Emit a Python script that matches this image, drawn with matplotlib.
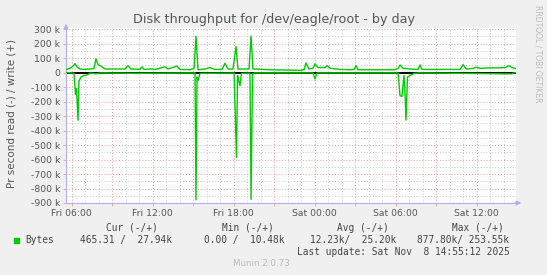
import numpy as np
import matplotlib
matplotlib.use("Agg")
import matplotlib.pyplot as plt

# hours since Fri 00:00, values in bytes/s
write_hours = [5.58, 5.88, 6.10, 6.25, 6.39, 6.62, 6.91, 7.36, 7.65, 7.80, 7.95, 8.17, 8.47,
               9.95, 10.17, 10.40, 11.06, 11.21, 11.36, 11.80, 12.17, 12.54, 12.91, 13.14,
               13.80, 14.03, 14.77, 15.07, 15.21, 15.36, 15.88, 16.25, 16.62, 17.14, 17.36,
               17.58, 17.95, 18.18, 18.32, 19.14, 19.29, 19.43, 19.95, 20.69, 22.92, 23.21,
               23.36, 23.58, 23.88, 24.03, 24.25, 24.55, 24.77, 24.92, 25.14, 25.88, 26.62,
               26.92, 27.07, 27.21, 29.96, 30.18, 30.33, 30.55, 31.07, 31.66, 31.81, 31.96,
               33.29, 34.77, 35.00, 35.22, 35.66, 35.96, 36.25, 36.99, 37.73, 38.10, 38.40,
               38.62, 38.92]
write_vals = [21e3, 30e3, 45e3, 62e3, 40e3, 25e3, 22e3, 25e3, 28e3, 95e3, 55e3, 45e3, 25e3,
              25e3, 48e3, 25e3, 23e3, 40e3, 22e3, 25e3, 22e3, 30e3, 40e3, 25e3,
              45e3, 22e3, 20e3, 30e3, 252e3, 20e3, 25e3, 35e3, 22e3, 22e3, 65e3,
              25e3, 25e3, 180e3, 25e3, 25e3, 253e3, 25e3, 23e3, 20e3, 16e3, 20e3,
              67e3, 25e3, 30e3, 60e3, 35e3, 35e3, 35e3, 48e3, 30e3, 22e3, 20e3,
              22e3, 48e3, 20e3, 20e3, 30e3, 53e3, 30e3, 25e3, 22e3, 53e3, 22e3,
              22e3, 22e3, 55e3, 25e3, 28e3, 37e3, 30e3, 33e3, 33e3, 35e3, 48e3,
              35e3, 28e3]

read_hours = [5.58, 6.02, 6.17, 6.28, 6.36, 6.47, 6.54, 6.69, 6.91, 7.21, 7.36, 7.80, 8.10,
              10.84, 15.14, 15.21, 15.29, 15.36, 15.51, 18.03, 18.21, 18.29, 18.36, 18.47,
              18.58, 19.21, 19.29, 19.40, 19.58, 23.88, 24.03, 24.18, 30.18, 30.33, 30.47,
              30.62, 30.70, 30.77, 30.88, 31.07, 31.36, 31.81, 38.62, 38.77, 38.92]
read_vals = [0, 2e3, 5e3, 150e3, 110e3, 328e3, 60e3, 30e3, 20e3, 14e3, 3e3, 8e3, 2e3,
             5e3, 2e3, 877.8e3, 30e3, 55e3, 5e3, 3e3, 585e3, 20e3, 50e3, 90e3,
             5e3, 3e3, 875e3, 10e3, 2e3, 2e3, 44e3, 2e3, 2e3, 160e3, 164e3,
             20e3, 150e3, 328e3, 30e3, 20e3, 5e3, 2e3, 9e3, 2e3, 0.5e3]

x_major = [6, 9, 12, 15, 18, 21, 24, 27, 30, 33, 36]
x_labels = ['Fri 06:00', '', 'Fri 12:00', '', 'Fri 18:00', '', 'Sat 00:00', '',
            'Sat 06:00', '', 'Sat 12:00']
y_ticks = [300e3, 200e3, 100e3, 0, -100e3, -200e3, -300e3, -400e3, -500e3, -600e3,
           -700e3, -800e3, -900e3]
y_labels = ['300 k', '200 k', '100 k', '0', '-100 k', '-200 k', '-300 k', '-400 k',
            '-500 k', '-600 k', '-700 k', '-800 k', '-900 k']

W, H = 547, 275
fig = plt.figure(figsize=(W / 100, H / 100), dpi=100, facecolor='#F0F0F0')
ax = fig.add_axes([66 / W, 1 - 203 / H, 450 / W, 175 / H])
ax.set_facecolor('white')

green = '#00CC00'
ax.set_xlim(5.58, 38.92)
ax.set_ylim(-900e3, 308e3)

# grid
dots = (0, (1, 2))
for h in range(6, 39):
    if h % 3:
        ax.axvline(h, color='#C8C8C8', lw=0.7, ls=dots, zorder=1)
for y in np.arange(-850e3, 300e3, 100e3):
    ax.axhline(y, color='#C8C8C8', lw=0.7, ls=dots, zorder=1)
for h in x_major:
    ax.axvline(h, color='#E89A9A', lw=0.7, ls=dots, zorder=1.5)
for y in y_ticks:
    ax.axhline(y, color='#E89A9A', lw=0.7, ls=dots, zorder=1.5)

ax.axhline(0, color='black', lw=1.4, zorder=2)
ax.plot(write_hours, write_vals, color=green, lw=1.0, zorder=3)
ax.plot(read_hours, -np.array(read_vals), color=green, lw=1.0, zorder=3)

for s in ['top', 'right']:
    ax.spines[s].set_visible(False)
for s in ['left', 'bottom']:
    ax.spines[s].set_color('#B0B0F0')
    ax.spines[s].set_linewidth(0.8)
ax.annotate('', xy=(0, 1.04), xytext=(0, 0.98), xycoords='axes fraction',
            arrowprops=dict(arrowstyle='-|>', color='#B0B0F0', lw=0.8, mutation_scale=7))
ax.annotate('', xy=(1.018, 0), xytext=(0.99, 0), xycoords='axes fraction',
            arrowprops=dict(arrowstyle='-|>', color='#B0B0F0', lw=0.8, mutation_scale=7))

ax.set_xticks(x_major)
ax.set_xticklabels(x_labels)
ax.set_yticks(y_ticks)
ax.set_yticklabels(y_labels)
ax.tick_params(axis='both', length=2, width=0.6, color='#E89A9A', labelcolor='#555555',
               labelsize=6.7, pad=2)

fig.text(274 / W, 1 - 19 / H, 'Disk throughput for /dev/eagle/root - by day',
         ha='center', va='center', fontsize=9.2, color='#555555')
fig.text(12 / W, 1 - 113 / H, 'Pr second read (-) / write (+)', rotation=90,
         ha='center', va='center', fontsize=7.5, color='#555555')
fig.text(538 / W, 1 - 54 / H, 'RRDTOOL / TOBI OETIKER', rotation=270,
         ha='center', va='center', fontsize=5.5, color='#BBBBBB')

mono = dict(family='DejaVu Sans Mono', fontsize=6.86, color='#444444', va='center')
for x, s in [(106, 'Cur (-/+)'), (221.7, 'Min (-/+)'), (336.7, 'Avg (-/+)'),
             (451.7, 'Max (-/+)')]:
    fig.text(x / W, 1 - 228 / H, s, ha='left', **mono)
for x, s in [(25, 'Bytes'), (79.7, '465.31 /  27.94k'), (203.7, '0.00 /  10.48k'),
             (310, '12.23k/  25.20k'), (416.7, '877.80k/ 253.55k')]:
    fig.text(x / W, 1 - 240 / H, s, ha='left', **mono)
fig.patches.append(plt.Rectangle((14 / W, 1 - 242.5 / H), 5 / W, 5 / H,
                                 transform=fig.transFigure, color=green))
fig.text(297.3 / W, 1 - 252 / H, 'Last update: Sat Nov  8 14:55:12 2025', ha='left', **mono)
fig.text(261 / W, 1 - 264 / H, 'Munin 2.0.73', ha='center', va='center',
         fontsize=6.3, color='#BBBBBB')

fig.savefig('out.png', dpi=100, facecolor=fig.get_facecolor())
